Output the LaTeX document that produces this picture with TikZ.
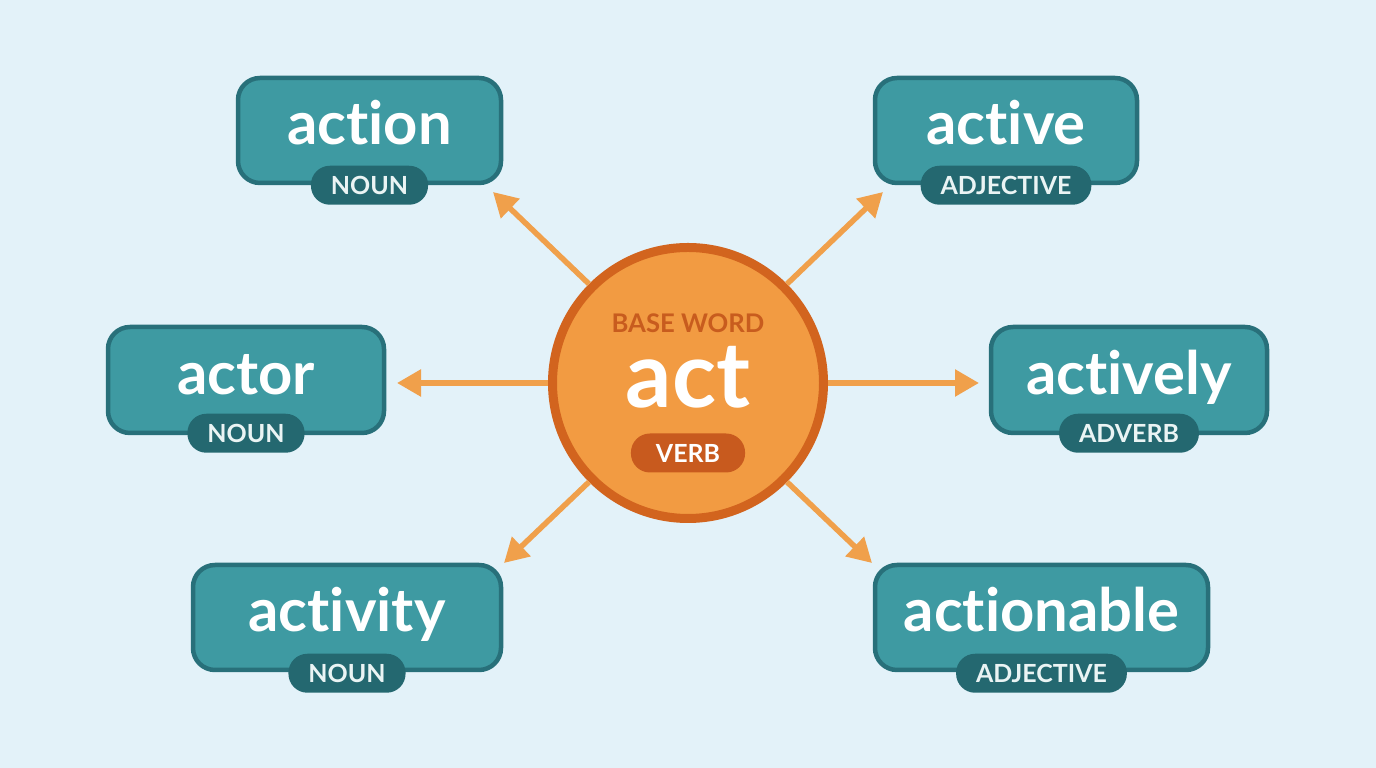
\documentclass[tikz,border=0pt]{standalone}
\usepackage{fontspec}
\setmainfont{Lato}[Ligatures=NoCommon]
\usepackage{xcolor}
\usepackage{tikz}
\usetikzlibrary{arrows.meta,positioning}

\definecolor{bgblue}{HTML}{E3F2F9}
\definecolor{boxfill}{HTML}{3E9AA2}
\definecolor{boxline}{HTML}{28707A}
\definecolor{tagfill}{HTML}{246870}
\definecolor{tagtext}{HTML}{EAF4F4}
\definecolor{basefill}{HTML}{F29B42}
\definecolor{baseborder}{HTML}{D2641E}
\definecolor{basetext}{HTML}{C85C1E}
\definecolor{verbfill}{HTML}{C85A1E}
\definecolor{arrowc}{HTML}{F0A04B}

\begin{document}
\begin{tikzpicture}[>=Latex,
  wordbox/.style={draw=boxline,line width=0.045cm,fill=boxfill,rounded corners=0.22cm,
    minimum height=1.05cm,text=white,font=\fontsize{17}{17}\selectfont\bfseries,
    text height=0.36cm,text depth=0.07cm},
  postag/.style={fill=tagfill,rounded corners=0.19cm,minimum height=0.39cm,
    inner xsep=0.2cm,inner ysep=0pt,text=tagtext,font=\fontsize{7.1}{7.1}\selectfont\bfseries},
  arr/.style={-{Triangle[length=0.24cm,width=0.26cm]},line width=0.055cm,draw=arrowc}]
% background
\fill[bgblue] (0,0) rectangle (13.76,7.68);
\useasboundingbox (0,0) rectangle (13.76,7.68);
% base word
\node[circle,draw=baseborder,line width=0.09cm,fill=basefill,minimum size=2.71cm] (base) at (6.88,3.85) {};
\node[anchor=base,inner sep=0pt,text=basetext,font=\fontsize{7.3}{7.3}\selectfont\bfseries] (base-label) at (6.88,4.35) {BASE WORD};
\node[anchor=base,inner sep=0pt,text=white,font=\fontsize{26}{26}\selectfont\bfseries] (base-word) at (6.88,3.60) {act};
\node[postag,fill=verbfill,text=white,inner xsep=0.25cm] (base-pos) at (6.88,3.15) {VERB};
% derived words
\node[wordbox,minimum width=2.63cm] (action) at (3.695,6.375) {action};
\node[postag] (action-pos) at (action.south) {NOUN};
\node[wordbox,minimum width=2.62cm] (active) at (10.06,6.375) {active};
\node[postag] (active-pos) at (active.south) {ADJECTIVE};
\node[wordbox,minimum width=2.76cm,minimum height=1.06cm] (actor) at (2.46,3.88) {actor};
\node[postag] (actor-pos) at ([yshift=0.02cm]actor.south) {NOUN};
\node[wordbox,minimum width=2.76cm,minimum height=1.06cm] (actively) at (11.29,3.88) {actively};
\node[postag] (actively-pos) at ([yshift=0.02cm]actively.south) {ADVERB};
\node[wordbox,minimum width=3.08cm] (activity) at (3.47,1.505) {activity};
\node[postag] (activity-pos) at ([yshift=-0.01cm]activity.south) {NOUN};
\node[wordbox,minimum width=3.33cm] (actionable) at (10.415,1.505) {actionable};
\node[postag] (actionable-pos) at ([yshift=-0.01cm]actionable.south) {ADJECTIVE};
% arrow tips
\coordinate (action-tip) at (4.93,5.76);
\coordinate (active-tip) at (8.83,5.76);
\coordinate (actor-tip) at (3.97,3.85);
\coordinate (actively-tip) at (9.79,3.85);
\coordinate (activity-tip) at (5.04,2.05);
\coordinate (actionable-tip) at (8.72,2.05);
% arrows
\draw[arr] (base.135) -- (action-tip);
\draw[arr] (base.45) -- (active-tip);
\draw[arr] (base.180) -- (actor-tip);
\draw[arr] (base.0) -- (actively-tip);
\draw[arr] (base.225) -- (activity-tip);
\draw[arr] (base.315) -- (actionable-tip);
\end{tikzpicture}
\end{document}
